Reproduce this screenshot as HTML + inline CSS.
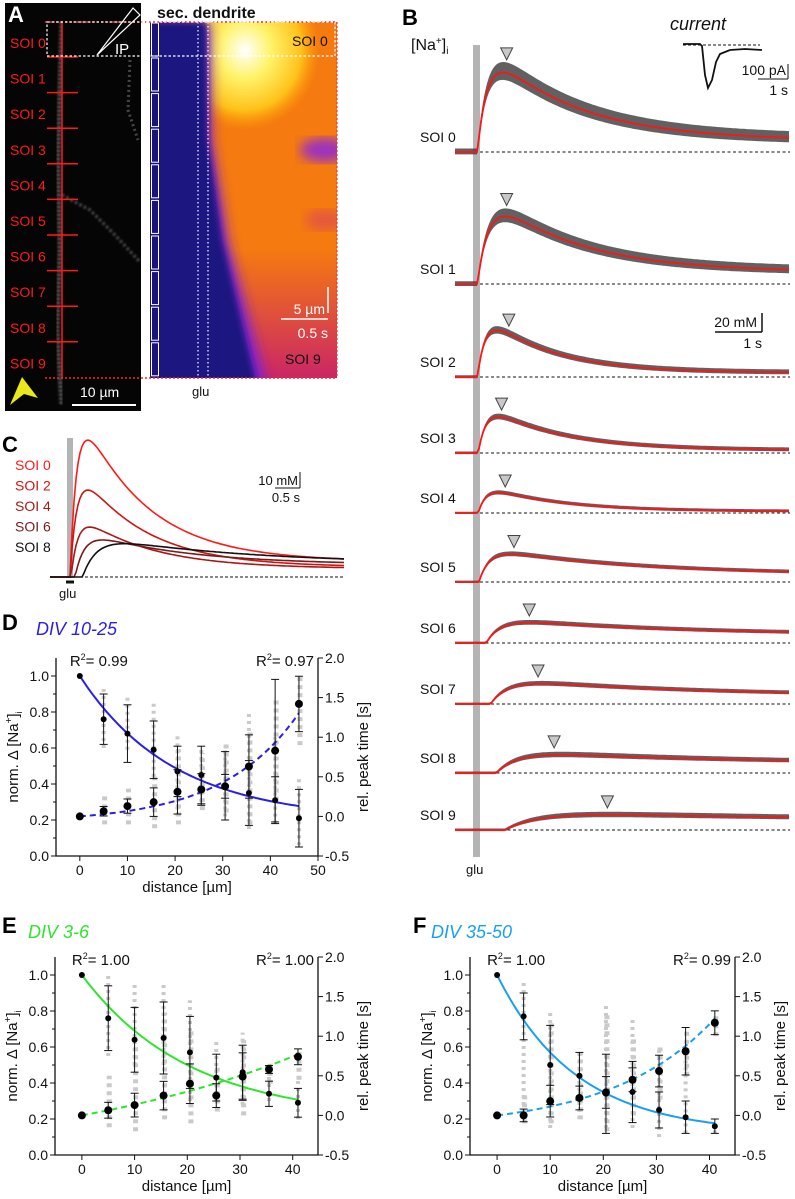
<!DOCTYPE html>
<html><head><meta charset="utf-8"><style>
html,body{margin:0;padding:0;background:#fff;}
svg{display:block;font-family:"Liberation Sans",Arial,sans-serif;}
</style></head><body>
<svg id="fig" width="795" height="1199" viewBox="0 0 795 1199" xmlns="http://www.w3.org/2000/svg">
<defs>
<filter id="blur6"><feGaussianBlur stdDeviation="6"/></filter>
<filter id="blur3"><feGaussianBlur stdDeviation="3"/></filter>
<filter id="blur1"><feGaussianBlur stdDeviation="1"/></filter>
<clipPath id="heatClip"><rect x="150" y="22" width="187" height="356"/></clipPath>
<radialGradient id="hot" cx="0.5" cy="0.5" r="0.5"><stop offset="0" stop-color="#ffffff"/><stop offset="0.35" stop-color="#fff36a"/><stop offset="0.75" stop-color="#ffc21a"/><stop offset="1" stop-color="#ffa000" stop-opacity="0"/></radialGradient>
<linearGradient id="magv" x1="0" y1="0" x2="0" y2="1"><stop offset="0" stop-color="#c8226a" stop-opacity="0"/><stop offset="1" stop-color="#c8226a" stop-opacity="0.95"/></linearGradient>
</defs>

<!-- PANEL A -->
<g>
<rect x="5" y="3" width="136" height="408" fill="#050505"/>
<polyline points="62,22 60,90 58,160 60,250 57,330 62,405" fill="none" stroke="#bbb" stroke-width="5" stroke-dasharray="2 2" opacity="0.6" filter="url(#blur1)"/>
<polyline points="62,195 90,210 115,235 140,262" fill="none" stroke="#aaa" stroke-width="3" stroke-dasharray="2 3" opacity="0.6" filter="url(#blur1)"/>
<polyline points="130,60 128,110 138,140" fill="none" stroke="#888" stroke-width="3" stroke-dasharray="2 3" opacity="0.5"/>
<text x="8" y="22" font-size="22" font-weight="bold" fill="#fff">A</text>
<g id="heat" clip-path="url(#heatClip)">
<rect x="150" y="22" width="187" height="356" fill="#f57a10"/>
<rect x="200" y="250" width="137" height="128" fill="url(#magv)"/>
<ellipse cx="245" cy="50" rx="75" ry="80" fill="url(#hot)"/>
<ellipse cx="325" cy="150" rx="25" ry="12" fill="#9a30c0" filter="url(#blur6)"/>
<ellipse cx="325" cy="220" rx="20" ry="10" fill="#d84060" filter="url(#blur6)" opacity="0.6"/>
<polygon points="140,22 210,22 212,140 228,240 268,390 140,390" fill="#7a20d0" filter="url(#blur6)"/>
<polygon points="140,22 206,22 208,140 222,240 258,390 140,390" fill="#1c1680" filter="url(#blur3)"/>
<rect x="150" y="22" width="10" height="356" fill="#1a1478"/>
</g>
<line x1="198" y1="22" x2="198" y2="378" stroke="#fff" stroke-width="1.2" stroke-dasharray="1.5 2.5"/>
<line x1="208" y1="22" x2="208" y2="378" stroke="#fff" stroke-width="1.2" stroke-dasharray="1.5 2.5"/>
<g id="aSoi"></g>
<line x1="45" y1="22" x2="337" y2="22" stroke="#f22" stroke-width="1.5" stroke-dasharray="2 2"/>
<line x1="45" y1="378" x2="337" y2="378" stroke="#f22" stroke-width="1.5" stroke-dasharray="2 2"/>
<line x1="337" y1="22" x2="337" y2="378" stroke="#f22" stroke-width="1" stroke-dasharray="2 2"/>
<rect x="47" y="22" width="288" height="34" fill="none" stroke="#fff" stroke-width="1.2" stroke-dasharray="2.5 2"/>
<polygon points="97,55 133,8 140,15" fill="none" stroke="#fff" stroke-width="1.2"/>
<text x="115" y="54" font-size="15" fill="#fff">IP</text>
<text x="157" y="18" font-size="16" font-weight="bold" fill="#111">sec. dendrite</text>
<text x="292" y="46" font-size="14" fill="#111">SOI 0</text>
<text x="285" y="364" font-size="14" fill="#111">SOI 9</text>
<line x1="328" y1="287" x2="328" y2="313" stroke="#fff" stroke-width="1.5"/>
<line x1="281" y1="319" x2="328" y2="319" stroke="#fff" stroke-width="1.5"/>
<text x="325" y="314" font-size="14" fill="#fff" text-anchor="end">5 µm</text>
<text x="328" y="338" font-size="14" fill="#fff" text-anchor="end">0.5 s</text>
<text x="192" y="396" font-size="13" fill="#111">glu</text>
<line x1="72" y1="405" x2="136" y2="405" stroke="#fff" stroke-width="2"/>
<text x="80" y="397" font-size="14" fill="#fff">10 µm</text>
<polygon points="10,405 22,377 38,398 24,394" fill="#e8e81a"/>
</g>

<!-- PANEL B -->
<g id="panelB">
<text x="402" y="25" font-size="22" font-weight="bold" fill="#000">B</text>
<text x="411" y="50" font-size="16" fill="#111">[Na<tspan font-size="10" dy="-6">+</tspan><tspan dy="6">]</tspan><tspan font-size="10" dy="4">i</tspan></text>
<rect x="473" y="45" width="7" height="812" fill="#b4b4b4"/>
<text x="466" y="874" font-size="13" fill="#111">glu</text>
<text x="670" y="30" font-size="18" font-style="italic" fill="#111">current</text>
<line x1="683" y1="45" x2="760" y2="45" stroke="#111" stroke-width="1" stroke-dasharray="3 2"/>
<polyline points="683,44 700,44 702,46 705,75 708,88 712,80 716,62 720,54 730,50 745,49 762,50" fill="none" stroke="#111" stroke-width="1.8"/>
<text x="786" y="75" font-size="14" fill="#111" text-anchor="end">100 pA</text>
<line x1="758" y1="79" x2="788" y2="79" stroke="#111" stroke-width="1"/>
<line x1="788" y1="64" x2="788" y2="79" stroke="#111" stroke-width="1"/>
<text x="788" y="95" font-size="14" fill="#111" text-anchor="end">1 s</text>
<text x="757" y="327" font-size="14" fill="#111" text-anchor="end">20 mM</text>
<line x1="762" y1="313" x2="762" y2="332" stroke="#111" stroke-width="1.5"/>
<line x1="715" y1="332" x2="762" y2="332" stroke="#111" stroke-width="1.5"/>
<text x="762" y="348" font-size="14" fill="#111" text-anchor="end">1 s</text>
<g id="bTraces"></g>
</g>

<!-- PANEL C -->
<g id="panelC">
<text x="2" y="452" font-size="22" font-weight="bold" fill="#000">C</text>
<rect x="67" y="438" width="6" height="140" fill="#b4b4b4"/>
<line x1="66" y1="582" x2="74" y2="582" stroke="#111" stroke-width="3"/>
<text x="59" y="598" font-size="13" fill="#111">glu</text>
<line x1="75" y1="577" x2="345" y2="577" stroke="#111" stroke-width="1" stroke-dasharray="3 2"/>
<text x="298" y="485" font-size="13" fill="#111" text-anchor="end">10 mM</text>
<line x1="300" y1="472" x2="300" y2="488" stroke="#111" stroke-width="1"/>
<line x1="275" y1="488" x2="300" y2="488" stroke="#111" stroke-width="1"/>
<text x="300" y="502" font-size="13" fill="#111" text-anchor="end">0.5 s</text>
<g id="cTraces"></g>
</g>

<g id="plots"></g>
</svg>
<script>
const NS="http://www.w3.org/2000/svg";
// ---- Panel B data ----
const bSoiLabels=["SOI 0","SOI 1","SOI 2","SOI 3","SOI 4","SOI 5","SOI 6","SOI 7","SOI 8","SOI 9"];
const bBaselines=[152,284,377,453,513,582,643,704,773,830];
const bPeakMM=[53,45,31,24,13.5,18.5,13.5,13.5,12,10];
const bOnsetS=[0.02,0.02,0.02,0.03,0.03,0.04,0.14,0.2,0.28,0.4];
const bRiseS=[0.15,0.17,0.12,0.12,0.12,0.15,0.2,0.25,0.3,0.45];
const bDecayS=[1.2,1.2,0.9,1.0,1.0,2.0,2.5,2.5,3.0,5.0];
const bPlateau=[0.1,0.12,0.06,0.05,0.05,0.2,0.3,0.3,0.4,0.45];
const bNoiseMM=[6,4.5,2.2,1.6,1,1.3,1.3,1.3,1.6,1.6];
const bPeakTimeS=[0.42,0.42,0.45,0.35,0.40,0.52,0.73,0.85,1.07,1.80];
// ---- Panel C data ----
const cLabels=["SOI 0","SOI 2","SOI 4","SOI 6","SOI 8"];
const cColors=["#ff1a1a","#d01414","#a81818","#7a1a1a","#111111"];
const cPeakMM=[74,47,27,20,18];
const cOnsetS=[0.0,0.0,0.02,0.1,0.25];
const cRiseS=[0.15,0.15,0.15,0.2,0.3];
const cDecayS=[1.3,1.3,1.4,2.0,3.0];
const cPlateau=[0.08,0.08,0.12,0.25,0.3];
// ---- Panel D/E/F data ----
const dDist=[0,5,10,15.5,20.5,25.5,30.5,35.5,41,46];
const dNa=[1.0,0.76,0.68,0.59,0.47,0.45,0.39,0.35,0.31,0.21];
const dNaErr=[0,0.14,0.16,0.16,0.14,0.16,0.19,0.18,0.13,0.16];
const dPk=[0,0.065,0.13,0.18,0.31,0.34,0.38,0.63,0.83,1.42];
const dPkErr=[0,0.06,0.09,0.18,0.28,0.2,0.15,0.4,0.9,0.35];
const dNaMin=[1,0.6,0.59,0.44,0.22,0.3,0.22,0.15,0.18,0.06];
const dNaMax=[1,0.93,0.89,0.85,0.68,0.6,0.59,0.8,0.66,0.44];
const dPkMin=[0,-0.1,-0.1,-0.15,-0.1,0.08,0.05,-0.1,0.2,0.9];
const dPkMax=[0,0.3,0.35,0.5,0.85,0.8,0.95,1.1,1.5,1.8];
const dFitNa=[0.2,0.8,19.7]; const dFitPk=[0.078,16];
const eDist=[0,5,10,15.5,20.5,25.5,30.5,35.5,41];
const eNa=[1.0,0.76,0.64,0.65,0.57,0.43,0.46,0.34,0.29];
const eNaErr=[0,0.18,0.18,0.2,0.2,0.13,0.15,0.07,0.08];
const ePk=[0,0.065,0.13,0.25,0.40,0.25,0.49,0.58,0.74];
const ePkErr=[0,0.1,0.15,0.18,0.25,0.15,0.3,0.05,0.1];
const eNaMin=[1,0.55,0.5,0.5,0.3,0.3,0.28,0.3,0.2];
const eNaMax=[1,1.0,0.96,0.96,0.86,0.63,0.68,0.45,0.42];
const ePkMin=[0,-0.15,-0.2,-0.05,-0.1,0.05,0.0,0.4,0.45];
const ePkMax=[0,0.5,0.9,1.3,1.1,0.6,0.95,0.7,0.8];
const eFitNa=[0.2,0.8,20.4]; const eFitPk=[0.64,51.9];
const fDist=[0,5,10,15.5,20.5,25.5,30.5,35.5,41];
const fNa=[1.0,0.77,0.50,0.44,0.34,0.35,0.25,0.21,0.16];
const fNaErr=[0,0.13,0.22,0.13,0.22,0.17,0.1,0.09,0.04];
const fPk=[0,0,0.18,0.22,0.29,0.45,0.56,0.81,1.17];
const fPkErr=[0,0.08,0.2,0.15,0.2,0.15,0.2,0.3,0.15];
const fNaMin=[1,0.2,0.15,0.2,0.15,0.15,0.1,0.12,0.12];
const fNaMax=[1,0.97,0.79,0.59,0.83,0.77,0.6,0.6,0.2];
const fPkMin=[0,-0.1,-0.1,-0.05,-0.2,0,0.2,0.5,1.0];
const fPkMax=[0,0.3,1.2,0.8,1.3,1.0,0.9,1.1,1.3];
const fFitNa=[0.12,0.88,14.9]; const fFitPk=[0.164,19.2];

function el(tag,attrs,parent){const e=document.createElementNS(NS,tag);for(const k in attrs)e.setAttribute(k,attrs[k]);parent.appendChild(e);return e;}
function shape(t,on,r,tau,p){const dt=t-on;if(dt<=0)return 0;return (1-Math.exp(-dt/r))*(p+(1-p)*Math.exp(-dt/tau));}
function peakNorm(on,r,tau,p){let m=0;for(let t=0;t<6;t+=0.01)m=Math.max(m,shape(t,on,r,tau,p));return m;}

// Panel A SOI labels
(function(){const g=document.getElementById('aSoi');
for(let i=0;i<10;i++){
 const t=el('text',{x:10,y:48+i*35.6,'font-size':14,fill:'#ff1a1a'},g);t.textContent="SOI "+i;
 
 
 if(i>0){const l=el('line',{x1:47,x2:78,y1:57+(i-1)*35.6,y2:57+(i-1)*35.6,stroke:'#ff1a1a','stroke-width':1.5},g);
 
 
 const b=el('rect',{x:151.5,y:57+(i-1)*35.6+1,width:7,height:33,fill:'none',stroke:'#fff','stroke-width':1},g);
 
 }
}
const v=el('line',{x1:62,x2:62,y1:22,y2:378,stroke:'#ff1a1a','stroke-width':1.5},g);


const b0=el('rect',{x:151.5,y:23,width:7,height:33,fill:'none',stroke:'#fff','stroke-width':1},g);


})();

// Panel B traces
(function(){const g=document.getElementById('bTraces');
const x0=476,pxS=73,pxMM=1.5,xs=455,xe=790;
const tx=t=>x0+t*pxS;
for(let i=0;i<10;i++){
 const base=bBaselines[i];const n=peakNorm(bOnsetS[i],bRiseS[i],bDecayS[i],bPlateau[i]);
 const yv=t=>base-bPeakMM[i]*pxMM*shape(t,bOnsetS[i],bRiseS[i],bDecayS[i],bPlateau[i])/n;
 const lab=el('text',{x:420,y:base-10,'font-size':14,fill:'#111'},g);lab.textContent=bSoiLabels[i];
 
 
 const dl=el('line',{x1:480,x2:790,y1:base,y2:base,stroke:'#111','stroke-width':1,'stroke-dasharray':'3 2.5'},g);
 
 
 let up=[],dn=[],mid=[];
 for(let x=xs;x<=xe;x+=2){const t=(x-x0)/pxS;const y=yv(t);const nz=bNoiseMM[i]*pxMM*(0.3+0.7*shape(t,bOnsetS[i],bRiseS[i],bDecayS[i]*1.3,0.3)/n)+0.8;
  up.push(x+","+(y-nz).toFixed(1));dn.unshift(x+","+(y+nz*0.7).toFixed(1));mid.push(x+","+y.toFixed(1));}
 const band=el('polygon',{points:up.concat(dn).join(" "),fill:'#3a3a3a',opacity:0.8},g);
 
 
 const pl=el('polyline',{points:mid.join(" "),fill:'none',stroke:'#ff1414','stroke-width':1.8},g);
 
 
 const px=tx(bPeakTimeS[i]);const py=yv(bPeakTimeS[i])-bNoiseMM[i]*pxMM*0.9-5;
 const tri=el('polygon',{points:`${px-6},${py-12} ${px+6},${py-12} ${px},${py}`,fill:'#c8c8c8',stroke:'#444','stroke-width':1},g);
 
 
}})();

// Panel C traces
(function(){const g=document.getElementById('cTraces');
const x0=70,pxS=50,pxMM=1.85,base=577;
for(let i=0;i<5;i++){
 const n=peakNorm(cOnsetS[i],cRiseS[i],cDecayS[i],cPlateau[i]);let pts=[];
 for(let x=50;x<=345;x+=2){const t=(x-x0)/pxS;pts.push(x+","+(base-cPeakMM[i]*pxMM*shape(t,cOnsetS[i],cRiseS[i],cDecayS[i],cPlateau[i])/n).toFixed(1));}
 const pl=el('polyline',{points:pts.join(" "),fill:'none',stroke:cColors[i],'stroke-width':1.6},g);
 
 
 const t=el('text',{x:15,y:470+i*20.5,'font-size':14,fill:cColors[i]},g);t.textContent=cLabels[i];
 
 
}})();

// Panels D/E/F
function plot(cfg){
 const g=el('g',{},document.getElementById('plots'));
 
 
 const L=cfg.left,R=cfg.right,T=cfg.top,B=cfg.bottom;
 const sx=v=>L+(v-cfg.xmin)/(cfg.xmax-cfg.xmin)*(R-L);
 const syL=v=>B-v/1.1*(B-T);
 const syR=v=>B-(v+0.5)/2.5*(B-T);
 const lt=el('text',{x:cfg.lx,y:T-cfg.lOff,'font-size':22,'font-weight':'bold',fill:'#000'},g);lt.textContent=cfg.letter;
 
 
 const tt=el('text',{x:cfg.lx+cfg.tOff,y:T-cfg.lOff+5,'font-size':18,'font-style':'italic',fill:cfg.color},g);tt.textContent=cfg.title;
 
 
 const ax=el('path',{d:`M${L},${T} V${B} H${R} V${T}`,fill:'none',stroke:'#111','stroke-width':1.3},g);
 
 
 [0,0.2,0.4,0.6,0.8,1.0].forEach(v=>{const y=syL(v);el('line',{x1:L,x2:L-5,y1:y,y2:y,stroke:'#111'},g);
  const t=el('text',{x:L-7,y:y+5,'font-size':14,'text-anchor':'end',fill:'#111'},g);t.textContent=v.toFixed(1);
  
  });
 [0.1,0.3,0.5,0.7,0.9].forEach(v=>el('line',{x1:L,x2:L-3,y1:syL(v),y2:syL(v),stroke:'#111'},g));
 [-0.5,0,0.5,1.0,1.5,2.0].forEach(v=>{const y=syR(v);el('line',{x1:R,x2:R+5,y1:y,y2:y,stroke:'#111'},g);
  const t=el('text',{x:R+7,y:y+5,'font-size':14,fill:'#111'},g);t.textContent=v.toFixed(1);
  
  });
 cfg.xticks.forEach(v=>{const x=sx(v);el('line',{x1:x,x2:x,y1:B,y2:B+5,stroke:'#111'},g);
  const t=el('text',{x:x,y:B+19,'font-size':14,'text-anchor':'middle',fill:'#111'},g);t.textContent=v;
  
  });
 const xl=el('text',{x:(L+R)/2,y:B+36,'font-size':15,'text-anchor':'middle',fill:'#111'},g);xl.textContent="distance [µm]";
 
 
 const yl=el('text',{transform:`translate(${L-38},${(T+B)/2}) rotate(-90)`,'font-size':15,'text-anchor':'middle',fill:'#111'},g);
 yl.innerHTML='norm. Δ [Na<tspan font-size="10" dy="-6">+</tspan><tspan dy="6">]</tspan><tspan font-size="9" dy="4">i</tspan>';
 
 
 const yr=el('text',{transform:`translate(${R+50},${(T+B)/2}) rotate(-90)`,'font-size':15,'text-anchor':'middle',fill:'#111'},g);yr.textContent="rel. peak time [s]";
 
 
 const r1=el('text',{x:sx(0)-10,y:T+8,'font-size':15,fill:'#111'},g);r1.innerHTML='R<tspan font-size="9" dy="-6">2</tspan><tspan dy="6">= '+cfg.r2a+'</tspan>';
 
 
 const r2=el('text',{x:R-4,y:T+8,'font-size':15,'text-anchor':'end',fill:'#111'},g);r2.innerHTML='R<tspan font-size="9" dy="-6">2</tspan><tspan dy="6">= '+cfg.r2b+'</tspan>';
 
 
 cfg.dist.forEach((d,i)=>{
  const a=el('line',{x1:sx(d),x2:sx(d),y1:syL(cfg.naMin[i]),y2:syL(cfg.naMax[i]),stroke:'#cacaca','stroke-width':4,'stroke-dasharray':'3 4'},g);
  
  
  const b=el('line',{x1:sx(d)+1,x2:sx(d)+1,y1:syR(cfg.pkMin[i]),y2:syR(cfg.pkMax[i]),stroke:'#cacaca','stroke-width':5,'stroke-dasharray':'4 4'},g);
  
  
 });
 let p1=[],p2=[];const xe=cfg.dist[cfg.dist.length-1];
 for(let d=0;d<=xe+0.01;d+=0.5){p1.push(sx(d)+","+syL(cfg.fitNa[0]+cfg.fitNa[1]*Math.exp(-d/cfg.fitNa[2])).toFixed(1));
  p2.push(sx(d)+","+syR(cfg.fitPk[0]*(Math.exp(d/cfg.fitPk[1])-1)).toFixed(1));}
 const f1=el('polyline',{points:p1.join(" "),fill:'none',stroke:cfg.color,'stroke-width':2},g);
 
 
 const f2=el('polyline',{points:p2.join(" "),fill:'none',stroke:cfg.color,'stroke-width':2,'stroke-dasharray':'6 4'},g);
 
 
 cfg.dist.forEach((d,i)=>{const x=sx(d);
  [[syL(cfg.na[i]),syL(cfg.na[i]-cfg.naErr[i]),syL(cfg.na[i]+cfg.naErr[i]),3,'mean-na'],[syR(cfg.pk[i]),syR(cfg.pk[i]-cfg.pkErr[i]),syR(cfg.pk[i]+cfg.pkErr[i]),4,'mean-peak']].forEach(([y,y1,y2,r,nm])=>{
   if(i>0){el('line',{x1:x,x2:x,y1:y1,y2:y2,stroke:'#111','stroke-width':1},g);
    el('line',{x1:x-4,x2:x+4,y1:y1,y2:y1,stroke:'#111'},g);el('line',{x1:x-4,x2:x+4,y1:y2,y2:y2,stroke:'#111'},g);}
   const c=el('circle',{cx:x,cy:y,r:r,fill:'#000'},g);
   
   
  });
 });
}
plot({name:'panel-d',letter:'D',title:'DIV 10-25',tOff:34,lOff:28,color:'#2a1ee8',lx:2,left:56,right:318,top:658,bottom:856,xmin:-5,xmax:50,xticks:[0,10,20,30,40,50],r2a:'0.99',r2b:'0.97',
 dist:dDist,na:dNa,naErr:dNaErr,pk:dPk,pkErr:dPkErr,naMin:dNaMin,naMax:dNaMax,pkMin:dPkMin,pkMax:dPkMax,fitNa:dFitNa,fitPk:dFitPk});
plot({name:'panel-e',letter:'E',title:'DIV 3-6',tOff:26,lOff:24,color:'#2ee62e',lx:2,left:55,right:318,top:957,bottom:1155,xmin:-5.1,xmax:44.8,xticks:[0,10,20,30,40],r2a:'1.00',r2b:'1.00',
 dist:eDist,na:eNa,naErr:eNaErr,pk:ePk,pkErr:ePkErr,naMin:eNaMin,naMax:eNaMax,pkMin:ePkMin,pkMax:ePkMax,fitNa:eFitNa,fitPk:eFitPk});
plot({name:'panel-f',letter:'F',title:'DIV 35-50',tOff:18,lOff:24,color:'#1a9ff0',lx:413,left:470,right:735,top:957,bottom:1155,xmin:-5.1,xmax:44.8,xticks:[0,10,20,30,40],r2a:'1.00',r2b:'0.99',
 dist:fDist,na:fNa,naErr:fNaErr,pk:fPk,pkErr:fPkErr,naMin:fNaMin,naMax:fNaMax,pkMin:fPkMin,pkMax:fPkMax,fitNa:fFitNa,fitPk:fFitPk});
</script>
</body></html>
